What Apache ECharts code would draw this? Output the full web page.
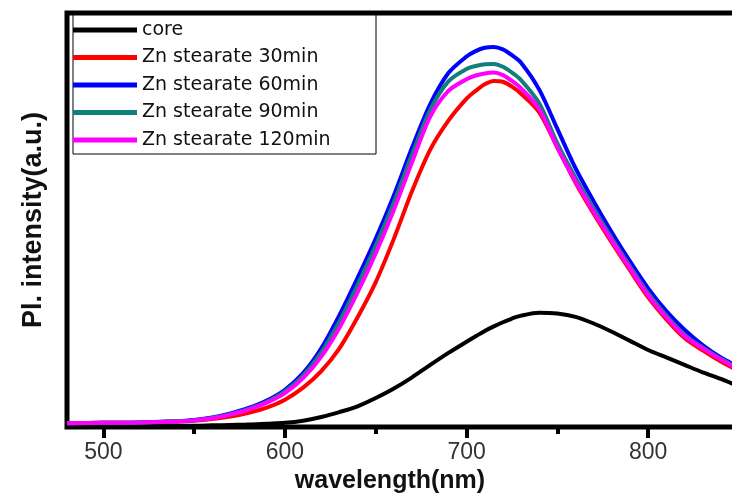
<!DOCTYPE html>
<html><head><meta charset="utf-8">
<script src="https://cdn.jsdelivr.net/npm/echarts@6/dist/echarts.min.js"></script>
<style>html,body{margin:0;padding:0;background:#fff}#c{width:732px;height:502px}</style>
</head><body><div id="c"></div><script>
var wavelengths = [480,500,520,540,550,560,570,580,590,600,610,620,630,640,650,660,670,680,690,700,705,710,715,720,725,730,740,750,760,770,780,790,800,810,820,830,840,850];
var seriesNames = ['core','Zn stearate 30min','Zn stearate 60min','Zn stearate 90min','Zn stearate 120min'];
var core    = [0.3,0.3,0.3,0.3,0.3,0.4,0.5,0.6,0.8,1.0,1.5,2.4,3.6,5.0,7.0,9.3,12.0,15.0,17.9,20.6,21.9,23.2,24.3,25.3,26.2,26.9,27.6,27.4,26.6,25.0,23.0,20.8,18.6,16.8,15.0,13.2,11.6,9.8];
var zn30    = [0.9,1.0,1.1,1.3,1.5,1.9,2.5,3.4,4.7,6.6,9.5,13.5,19.0,26.5,35.0,45.5,57.0,67.0,74.0,79.3,81.2,82.8,83.6,83.4,82.2,80.5,76.0,67.5,59.0,51.5,44.5,37.8,31.3,26.0,21.5,18.5,15.8,13.5];
var zn60    = [0.9,1.0,1.1,1.4,1.7,2.3,3.3,4.6,6.4,9.0,13.0,19.0,27.0,36.0,45.5,56.0,67.5,78.0,85.5,89.5,90.8,91.6,91.8,91.2,89.8,88.0,81.5,72.0,62.5,54.5,47.0,40.0,33.5,28.0,23.5,19.8,16.8,14.5];
var zn90    = [0.9,1.0,1.1,1.4,1.6,2.2,3.1,4.4,6.1,8.6,12.4,18.0,25.5,34.3,43.8,54.3,65.8,76.6,83.5,86.5,87.2,87.6,87.7,87.0,85.6,83.8,78.2,68.5,60.2,52.8,45.6,38.8,32.3,26.9,22.3,19.2,16.5,14.2];
var zn120   = [0.9,1.0,1.1,1.3,1.6,2.1,3.0,4.2,5.9,8.2,11.8,17.0,24.0,32.5,42.0,52.5,64.0,75.0,81.2,84.0,84.9,85.4,85.6,85.0,83.6,81.8,76.8,67.5,59.3,52.0,45.0,38.3,31.8,26.5,22.0,19.0,16.3,13.9];
var colors = ['#000000','#ff0000','#0000ff','#12807a','#ff00ff'];
var tickLabels = [500,600,700,800];
var minorTicks = [550,650,750];

function pairs(vals){ return wavelengths.map(function(w,i){ return [w, vals[i]]; }); }
var allVals = [core, zn30, zn60, zn90, zn120];

var chart = echarts.init(document.getElementById('c'), null, {renderer:'canvas'});
chart.setOption({
  animation:false,
  backgroundColor:'#fff',
  grid:{left:67, right:-7, top:13, bottom:75, outerBoundsMode:'none', containLabel:false, show:true, borderColor:'#000', borderWidth:5, backgroundColor:'transparent'},
  legend:{
    left:73, top:15, orient:'vertical',
    data: seriesNames,
    icon:'rect', itemWidth:64, itemHeight:5, itemGap:7.5,
    padding:[5,4,4,0],
    backgroundColor:'#fff', borderColor:'#000', borderWidth:1,
    textStyle:{fontFamily:'DejaVu Sans', fontSize:19, color:'#111', lineHeight:20, width:230}
  },
  xAxis:[{
    type:'value', min:480, max:850, position:'bottom',
    axisLine:{show:false}, splitLine:{show:false},
    axisTick:{show:true, length:11, customValues:tickLabels, lineStyle:{color:'#000', width:4}},
    axisLabel:{customValues:tickLabels, fontFamily:'Liberation Sans', fontSize:23, color:'#333', margin:14},
    name:'wavelength(nm)', nameLocation:'middle', nameGap:42,
    nameTextStyle:{fontFamily:'Liberation Sans', fontWeight:'bold', fontSize:25, color:'#111', padding:[0,26,0,0]}
  },{
    type:'value', min:480, max:850, position:'bottom',
    axisLine:{show:false}, splitLine:{show:false},
    axisTick:{show:true, length:7, customValues:minorTicks, lineStyle:{color:'#000', width:4}},
    axisLabel:{show:false}
  }],
  yAxis:{
    type:'value', min:0, max:100,
    axisLine:{show:false}, axisTick:{show:false}, axisLabel:{show:false}, splitLine:{show:false},
    name:'Pl. intensity(a.u.)', nameLocation:'middle', nameGap:20,
    nameTextStyle:{fontFamily:'Liberation Sans', fontWeight:'bold', fontSize:27, color:'#111'}
  },
  series: seriesNames.map(function(n,i){
    return {
      name:n, type:'line', xAxisIndex:0, data:pairs(allVals[i]), smooth:0.3, showSymbol:false,
      lineStyle:{color:colors[i], width:4}, itemStyle:{color:colors[i]}
    };
  })
});
</script></body></html>
